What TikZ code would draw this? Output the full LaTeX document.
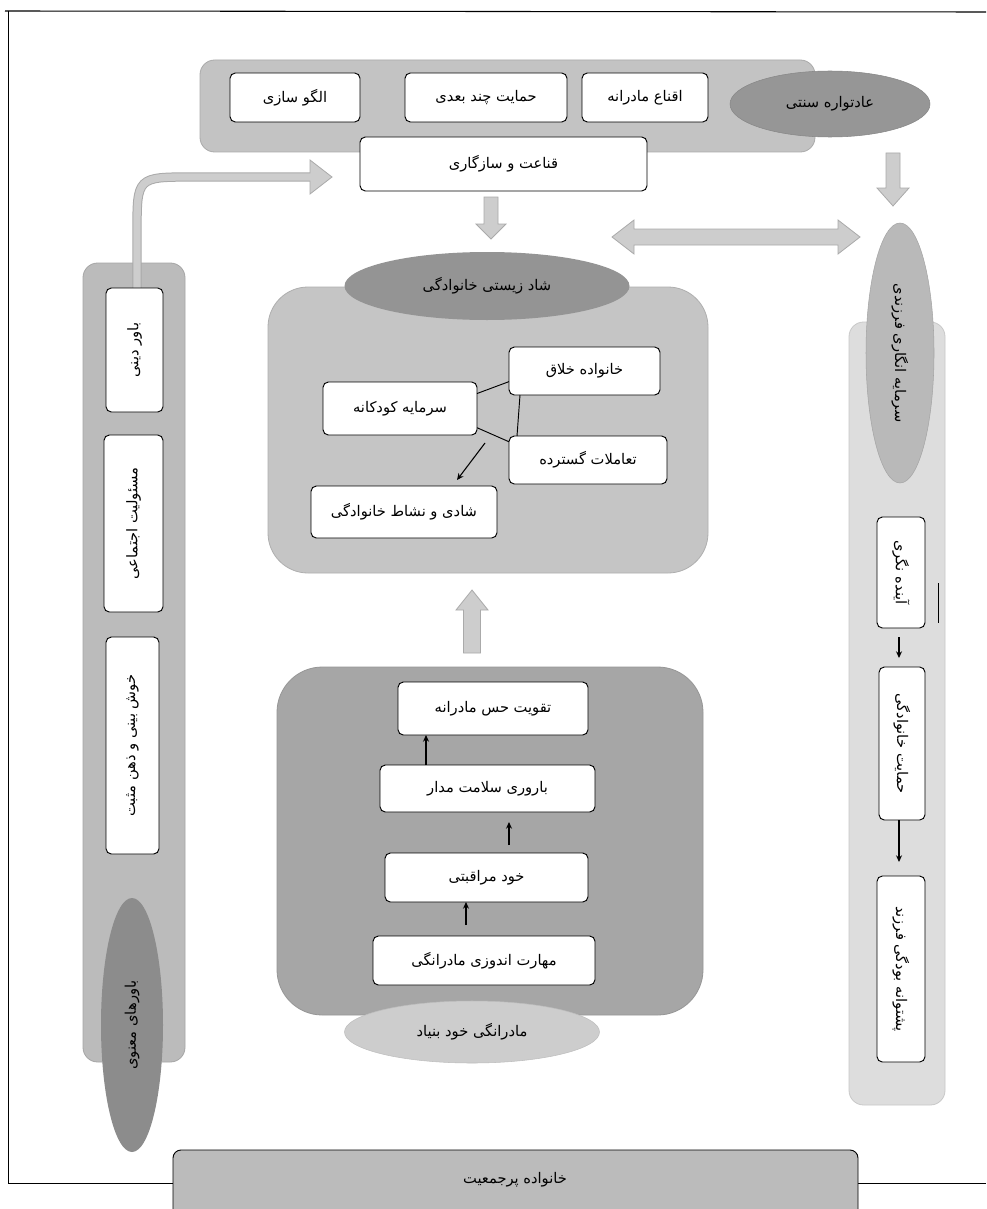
\documentclass[tikz,border=0pt]{standalone}
\usepackage{fontspec}
\newfontfamily\arabicfont[Script=Arabic]{DejaVu Sans}
\TeXXeTstate=1
\usetikzlibrary{calc,fit,shapes.geometric,arrows.meta}
\definecolor{gTop}{RGB}{195,195,195}
\definecolor{gTopB}{RGB}{170,170,170}
\definecolor{gEllAdat}{RGB}{150,150,150}
\definecolor{gEllAdatB}{RGB}{135,135,135}
\definecolor{gCen}{RGB}{197,197,197}
\definecolor{gCenB}{RGB}{175,175,175}
\definecolor{gEllShad}{RGB}{148,148,148}
\definecolor{gBot}{RGB}{166,166,166}
\definecolor{gBotB}{RGB}{150,150,150}
\definecolor{gEllMad}{RGB}{205,205,205}
\definecolor{gEllMadB}{RGB}{190,190,190}
\definecolor{gLeft}{RGB}{187,187,187}
\definecolor{gLeftB}{RGB}{165,165,165}
\definecolor{gEllBav}{RGB}{140,140,140}
\definecolor{gRight}{RGB}{221,221,221}
\definecolor{gRightB}{RGB}{200,200,200}
\definecolor{gEllSar}{RGB}{185,185,185}
\definecolor{gEllSarB}{RGB}{165,165,165}
\definecolor{gBar}{RGB}{187,187,187}
\definecolor{arrF}{RGB}{205,205,205}
\definecolor{arrB}{RGB}{170,170,170}
\begin{document}
\begin{tikzpicture}[x=0.75pt,y=-0.75pt,
  every node/.style={font=\arabicfont\fontsize{11}{13}\selectfont, inner sep=0pt, outer sep=0pt},
  wbox/.style={draw=black, fill=white, rounded corners=4pt, line width=0.7pt},
  blockarr/.style={draw=arrB, fill=arrF, line width=0.6pt},
  link/.style={line width=0.7pt},
  arr/.style={line width=0.8pt, -{Stealth[length=5pt,width=4.5pt]}},
]
\useasboundingbox (0,0) rectangle (986,1209);
\fill[white] (0,0) rectangle (986,1209);
% frame
\draw[line width=0.8pt] (5,11) -- (986,12);
\draw[line width=0.6pt] (8,11) -- (8,1183) -- (986,1183);

% ---------- top band ----------
\node[fit={(200,60) (815,152)}, draw=gTopB, fill=gTop, rounded corners=11pt, line width=0.6pt] (topbar) {};
\node[wbox, fit={(230,73) (360,122)}, label={center:\beginR الگو سازی\endR}] (olgoo) {};
\node[wbox, fit={(405,73) (567,122)}, label={center:\beginR حمایت چند بعدی\endR}] (hemchand) {};
\node[wbox, fit={(582,73) (708,122)}, label={center:\beginR اقناع مادرانه\endR}] (eqna) {};
\node[ellipse, draw=gEllAdatB, fill=gEllAdat, minimum width=150pt, minimum height=49.5pt] (adat) at (830,104) {\beginR عادتواره سنتی\endR};
\node[wbox, fit={(360,137) (647,191)}, label={center:\beginR قناعت و سازگاری\endR}] (ghenaat) {};

% block arrows
\filldraw[blockarr] (484,197) -- (498,197) -- (498,224) -- (506,224) -- (491,239) -- (476,224) -- (484,224) -- cycle;
\filldraw[blockarr] (886,153) -- (900,153) -- (900,188) -- (909,188) -- (893,206) -- (877,188) -- (886,188) -- cycle;
\filldraw[blockarr] (612,237) -- (634,220) -- (634,229) -- (838,229) -- (838,220) -- (860,237) -- (838,254) -- (838,245) -- (634,245) -- (634,254) -- cycle;
\filldraw[blockarr] (472,590) -- (488,610) -- (480.5,610) -- (480.5,653) -- (463.5,653) -- (463.5,610) -- (456,610) -- cycle;

% ---------- central family box ----------
\node[fit={(268,287) (708,573)}, draw=gCenB, fill=gCen, rounded corners=30pt, line width=0.6pt] (shadbox) {};
\node[ellipse, fill=gEllShad, minimum width=213.75pt, minimum height=51pt] (shad) at (487,286) {\beginR شاد زیستی خانوادگی\endR};
\node[wbox, fit={(509,347) (660,395)}, label={center:\beginR خانواده خلاق\endR}] (khallagh) {};
\node[wbox, fit={(323,382) (477,435)}, label={center:\beginR سرمایه کودکانه\endR}] (sarmaye) {};
\node[wbox, fit={(509,436) (667,484)}, label={center:\beginR تعاملات گسترده\endR}] (taamolat) {};
\node[wbox, fit={(311,486) (497,538)}, label={center:\beginR شادی و نشاط خانوادگی\endR}] (shadi) {};
\draw[link] (sarmaye.11) -- (khallagh.188);
\draw[link] (sarmaye.346) -- (taamolat.167);
\draw[link] ($(khallagh.south west)+(11,0)$) -- ($(taamolat.north west)+(8,0)$);
\draw[arr] ($(sarmaye.south east)+(8,8)$) -- ($(shadi.north east)+(-40,-6)$);

% ---------- mother box ----------
\node[fit={(277,667) (703,1015)}, draw=gBotB, fill=gBot, rounded corners=34pt, line width=0.6pt] (madbox) {};
\node[wbox, fit={(398,682) (588,735)}, label={center:\beginR تقویت حس مادرانه\endR}] (taghviat) {};
\node[wbox, fit={(380,765) (595,812)}, label={center:\beginR باروری سلامت مدار\endR}] (barvari) {};
\node[wbox, fit={(385,853) (588,902)}, label={center:\beginR خود مراقبتی\endR}] (khod) {};
\node[wbox, fit={(373,936) (595,985)}, label={center:\beginR مهارت اندوزی مادرانگی\endR}] (maharat) {};
\draw[arr] ($(barvari.north west)+(46,0)$) -- ($(taghviat.south west)+(28,0)$);
\draw[arr] ($(khod.north west)+(124,-8)$) -- ($(barvari.south west)+(129,10)$);
\draw[arr] ($(maharat.north west)+(93,-11)$) -- ($(khod.south west)+(81,0)$);
\node[ellipse, draw=gEllMadB, fill=gEllMad, minimum width=191.25pt, minimum height=46.5pt] (madarangi) at (472,1032) {\beginR مادرانگی خود بنیاد\endR};

% ---------- left column ----------
\node[fit={(83,263) (185,1062)}, draw=gLeftB, fill=gLeft, rounded corners=11pt, line width=0.6pt] (leftcol) {};
\coordinate (cs) at (137,300);
\coordinate (ce) at (310,177);
\draw[line width=7pt, arrB] (cs) -- (137,232) .. controls (137,177) .. (192,177) -- (ce);
\filldraw[blockarr] (310,160) -- (332,177) -- (310,194) -- cycle;
\draw[line width=5.5pt, arrF] (cs) -- (137,232) .. controls (137,177) .. (192,177) -- (312,177);
\node[wbox, fit={(106,288) (163,412)}] (dini) {};
\node[rotate=90] at (dini.center) {\beginR باور دینی\endR};
\node[wbox, fit={(104,435) (163,612)}] (masool) {};
\node[rotate=90] at (masool.center) {\beginR مسئولیت اجتماعی\endR};
\node[wbox, fit={(106,637) (159,854)}] (khosh) {};
\node[rotate=90] at (khosh.center) {\beginR خوش بینی و ذهن مثبت\endR};
\node[ellipse, rotate=90, fill=gEllBav, minimum width=190.5pt, minimum height=46.5pt] (bavarha) at (132,1025) {\beginR باورهای معنوی\endR};

% ---------- right column ----------
\node[fit={(849,322) (945,1105)}, draw=gRightB, fill=gRight, rounded corners=11pt, line width=0.6pt] (rightcol) {};
\node[ellipse, rotate=-90, draw=gEllSarB, fill=gEllSar, minimum width=195pt, minimum height=51pt] (engari) at (900,353) {\beginR سرمایه انگاری فرزندی\endR};
\node[wbox, fit={(877,517) (925,628)}] (ayande) {};
\node[rotate=-90] at (ayande.center) {\beginR آینده نگری\endR};
\node[wbox, fit={(879,667) (925,820)}] (hemkh) {};
\node[rotate=-90] at (hemkh.center) {\beginR حمایت خانوادگی\endR};
\node[wbox, fit={(877,876) (925,1062)}] (posht) {};
\node[rotate=-90] at (posht.center) {\beginR پشتوانه بودگی فرزند\endR};
\coordinate (st1) at (938,583);
\coordinate (st2) at (938,623);
\draw[link] (st1) -- (st2);
\draw[arr] ($(ayande.south)+(-2,9)$) -- ($(hemkh.north)+(-3,-9)$);
\draw[arr] ($(hemkh.south)+(-3,0)$) -- ($(posht.north)+(-2,-14)$);

% ---------- bottom bar ----------
\node[fit={(173,1150) (858,1225)}, draw=black, fill=gBar, rounded corners=6pt, line width=0.7pt] (pur) {};
\node (purtxt) at (515,1180) {\beginR خانواده پرجمعیت\endR};
\end{tikzpicture}
\end{document}
